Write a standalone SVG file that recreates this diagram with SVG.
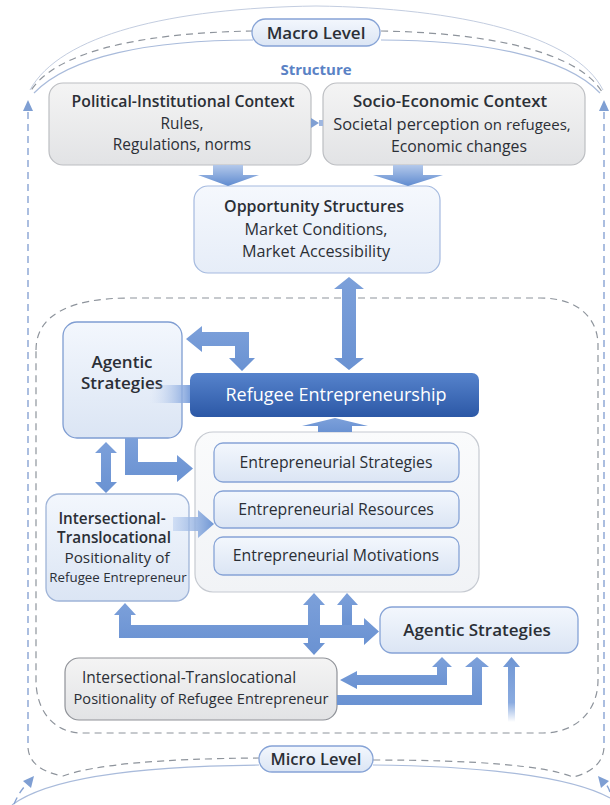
<svg xmlns="http://www.w3.org/2000/svg" width="610" height="805" viewBox="0 0 610 805">
<defs>
<linearGradient id="gGray" x1="0" y1="0" x2="0" y2="1"><stop offset="0" stop-color="#f4f4f4"/><stop offset="1" stop-color="#e2e3e5"/></linearGradient>
<linearGradient id="gBlue" x1="0" y1="0" x2="0" y2="1"><stop offset="0" stop-color="#f3f7fd"/><stop offset="1" stop-color="#dbe5f4"/></linearGradient>
<linearGradient id="gOpp" x1="0" y1="0" x2="0" y2="1"><stop offset="0" stop-color="#f5f8fd"/><stop offset="1" stop-color="#e6edf8"/></linearGradient>
<linearGradient id="gOuter" x1="0" y1="0" x2="0" y2="1"><stop offset="0" stop-color="#fafbfc"/><stop offset="1" stop-color="#f1f3f6"/></linearGradient>
<linearGradient id="gBar" x1="0" y1="0" x2="0" y2="1"><stop offset="0" stop-color="#5683cc"/><stop offset="1" stop-color="#2c58a6"/></linearGradient>
<linearGradient id="gDown" x1="0" y1="0" x2="0" y2="1"><stop offset="0" stop-color="#b3c8ea"/><stop offset="1" stop-color="#5f8bd0"/></linearGradient>
<linearGradient id="gArrow" x1="0" y1="0" x2="0" y2="1"><stop offset="0" stop-color="#7ca0da"/><stop offset="1" stop-color="#6a92d2"/></linearGradient>
<linearGradient id="gGlow" x1="0" y1="0" x2="1" y2="0"><stop offset="0" stop-color="#c9d8f1" stop-opacity="0"/><stop offset="1" stop-color="#7fa2dc"/></linearGradient>
<linearGradient id="gFade" x1="0" y1="0" x2="0" y2="1"><stop offset="0" stop-color="#6f96d4"/><stop offset="0.7" stop-color="#8aabe0"/><stop offset="1" stop-color="#8aabe0" stop-opacity="0"/></linearGradient>
<linearGradient id="gGlow2" x1="0" y1="0" x2="1" y2="0"><stop offset="0" stop-color="#bcd0f0" stop-opacity="0.6"/><stop offset="1" stop-color="#6f96d4"/></linearGradient>
<style>
text{font-family:"Open Sans","Noto Sans","DejaVu Sans",sans-serif;fill:#2b2f36;text-anchor:middle}
.t{font-weight:600;font-size:16px}
.r{font-size:15.8px}
.gray{fill:url(#gGray);stroke:#bcbec2;stroke-width:1.2}
.blue{fill:url(#gBlue);stroke:#86a3d6;stroke-width:1.3}
.arr{fill:url(#gArrow)}
.dashG{fill:none;stroke:#8e949c;stroke-width:1.2;stroke-dasharray:7 5}
.dashB{fill:none;stroke:#88a3d3;stroke-width:1.4;stroke-dasharray:7 5}
.arc{fill:none;stroke:#a9bbdb;stroke-width:1.2}
.arcL{fill:none;stroke:#c3cde0;stroke-width:1}
</style>
</defs>
<rect width="610" height="805" fill="#ffffff"/>

<g id="frame">
<path class="arcL" d="M30 90 C60 35 170 8 316 6 C460 8 575 35 603 90"/>
<path class="dashG" d="M253 31 C130 33 52 55 30 92"/>
<path class="dashG" d="M381 31 C500 33 580 55 602 92"/>
<path class="arc" d="M34 93 C70 56 150 40 253 40"/>
<path class="arc" d="M381 40 C480 40 565 56 600 93"/>
<path class="dashB" d="M28 112 L28 748"/>
<polygon points="28,100 33,111 23,111" fill="#7f9fd3"/>
<path class="dashB" d="M604 112 L604 748"/>
<polygon points="604,100 609,111 599,111" fill="#7f9fd3"/>
<path class="dashG" d="M28 748 Q30 770 63 776 Q110 759 259 758"/>
<path class="dashG" d="M604 748 Q602 770 573 777 Q530 760 373 760"/>
<path class="arc" d="M12 805 C50 776 150 766 259 765"/>
<path class="arc" d="M373 765 C480 766 570 776 610 798"/>
<path class="dashB" d="M14 804 Q20 790 29 782"/>
<polygon points="34,776 31,788 23,781" fill="#7f9fd3"/>
<path class="dashB" d="M610 792 Q608 786 605 783"/>
<polygon points="598,776 609,781 601,788" fill="#7f9fd3"/>
<path class="dashG" d="M36 350 C36 315 70 298 130 298 L540 298 C580 298 598 320 598 345 L598 680 C598 712 575 733 543 733 L82 733 C55 733 36 712 36 680 Z"/>
</g>

<g id="macro-level">
<rect x="252" y="19" width="128" height="27" rx="13.5" class="blue"/>
<text x="316" y="38.5" style="font-size:17px;font-weight:600">Macro Level</text>
</g>
<g id="structure-label">
<text x="316" y="75" style="font-size:15px;font-weight:700;fill:#5a82c5">Structure</text>
</g>
<g id="micro-level">
<rect x="259" y="746" width="114" height="26" rx="13" class="blue"/>
<text x="316" y="765" style="font-size:16.5px;font-weight:600">Micro Level</text>
</g>

<g id="political-context">
<rect x="49" y="83" width="262" height="82" rx="14" class="gray"/>
<text x="183" y="107" class="t" style="font-size:15.8px">Political-Institutional Context</text>
<text x="182" y="129" class="r" style="font-size:15.4px">Rules,</text>
<text x="182" y="150" class="r" style="font-size:15.4px">Regulations, norms</text>
</g>
<g id="socio-economic-context">
<rect x="323" y="83" width="262" height="82" rx="14" class="gray"/>
<text x="450" y="107" class="t" style="font-size:16.8px">Socio-Economic Context</text>
<text x="452" y="130" class="r" style="font-size:16.4px">Societal perception <tspan style="font-size:15px">on refugees,</tspan></text>
<text x="459" y="152" class="r">Economic changes</text>
</g>
<g id="opportunity-structures">
<rect x="194" y="186" width="246" height="87" rx="14" fill="url(#gOpp)" stroke="#a5badf" stroke-width="1.2"/>
<text x="314" y="212" class="t">Opportunity Structures</text>
<text x="316" y="235" class="r" style="font-size:16.2px">Market Conditions,</text>
<text x="316" y="257" class="r" style="font-size:16.2px">Market Accessibility</text>
</g>
<g id="agentic-strategies-left">
<rect x="63" y="322" width="119" height="116" rx="14" class="blue" style="stroke:#7f9dd2"/>
<text x="122" y="368" class="t" style="font-size:17px">Agentic</text>
<text x="122" y="389" class="t" style="font-size:17px">Strategies</text>
</g>
<g id="refugee-entrepreneurship">
<rect x="190" y="373" width="289" height="44" rx="7" fill="url(#gBar)"/>
<text x="336" y="401" style="font-size:18px;font-weight:500;fill:#ffffff">Refugee Entrepreneurship</text>
</g>
<g id="entrepreneurial-elements">
<rect x="195" y="432" width="284" height="160" rx="18" fill="url(#gOuter)" stroke="#c6cad1" stroke-width="1.2"/>
<rect x="214" y="443" width="245" height="39" rx="9" class="blue"/>
<text x="336" y="468" class="r">Entrepreneurial Strategies</text>
<rect x="214" y="491" width="245" height="37" rx="9" class="blue"/>
<text x="336" y="515" class="r">Entrepreneurial Resources</text>
<rect x="214" y="537" width="245" height="38" rx="9" class="blue"/>
<text x="336" y="561" class="r">Entrepreneurial Motivations</text>
</g>
<g id="positionality-left">
<rect x="46" y="494" width="143" height="107" rx="13" class="blue" style="stroke:#9fb4d8"/>
<text x="112" y="524" class="t" style="font-size:15.3px">Intersectional-</text>
<text x="114" y="543" class="t" style="font-size:15.3px">Translocational</text>
<text x="117" y="563" class="r" style="font-size:15.3px">Positionality of</text>
<text x="118" y="582" class="r" style="font-size:13.3px">Refugee Entrepreneur</text>
</g>
<g id="agentic-strategies-right">
<rect x="380" y="607" width="198" height="46" rx="12" class="blue"/>
<text x="477" y="636" class="t" style="font-size:17px">Agentic Strategies</text>
</g>
<g id="positionality-bottom">
<rect x="65" y="658" width="272" height="62" rx="14" class="gray" style="stroke:#8f9298"/>
<text x="189" y="683" class="r" style="font-size:15.5px">Intersectional-Translocational</text>
<text x="201" y="704" class="r" style="font-size:14.6px">Positionality of Refugee Entrepreneur</text>
</g>

<g id="connectors">
<polygon points="311,118 319,123 311,128" fill="#7f9fd3"/>
<rect x="319" y="120" width="4" height="6" fill="#9fb7e0"/>
<polygon points="213,165 243,165 243,175 259,175 228,186 198,175 213,175" fill="url(#gDown)"/>
<polygon points="393,165 423,165 423,175 443,175 408,186 373,175 393,175" fill="url(#gDown)"/>
<polygon class="arr" points="349,277 364,289 356,289 356,358 364,358 349,370 334,358 342,358 342,289 334,289"/>
<polygon class="arr" points="186,339 202,326 202,332 249,332 249,358 255,358 242,371 229,358 235,358 235,346 202,346 202,352"/>
<rect x="150" y="385" width="40" height="18" fill="url(#gGlow)"/>
<polygon class="arr" points="335,418 368,426 352,426 352,432 318,432 318,426 302,426"/>
<polygon class="arr" points="125,438 138,438 138,462 177,462 177,455 193,468.5 177,482 177,475 125,475"/>
<polygon class="arr" points="106,442 117,453 111,453 111,482 117,482 106,493 95,482 101,482 101,453 95,453"/>
<polygon fill="url(#gGlow2)" points="173,517 198,517 198,510 214,524 198,538 198,531 173,531"/>
<polygon class="arr" points="125,603 136,615 131,615 131,625 364,625 364,618 379,631.5 364,645 364,638 119,638 119,615 114,615"/>
<polygon class="arr" points="314,593 325,605 320,605 320,643 325,643 314,655 303,643 308,643 308,605 303,605"/>
<polygon class="arr" points="347,593 358,605 352,605 352,625 342,625 342,605 337,605"/>
<polygon class="arr" points="340,680 357,671 357,675 437,675 437,667 432,667 442,657 452,667 447,667 447,685 357,685 357,689"/>
<polygon class="arr" points="337,695 472,695 472,667 465,667 477,657 489,667 482,667 482,705 337,705"/>
<polygon fill="url(#gFade)" points="511.5,657 520,667 515,667 515,722 508,722 508,667 503,667"/>
</g>
</svg>
